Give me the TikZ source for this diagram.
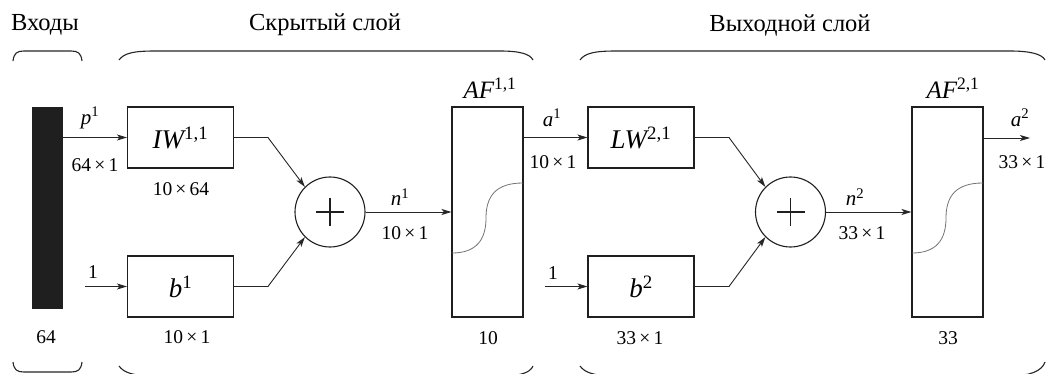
\documentclass[tikz,border=0pt]{standalone}
\usepackage{fontspec}
\setmainfont{Liberation Serif}
\usetikzlibrary{arrows.meta,calc}
\newcommand\sups[1]{\textsuperscript{\upshape #1}}
\begin{document}
\begin{tikzpicture}[x=1pt,y=-1pt,
  ink/.style={draw=black!88},
  blk/.style={ink,line width=1.1pt,inner sep=0pt,minimum width=106pt,minimum height=61pt,font=\fontsize{27}{30}\selectfont\itshape},
  afbox/.style={ink,line width=1.1pt,inner sep=0pt,minimum width=71pt,minimum height=210pt},
  sumc/.style={ink,circle,line width=1.1pt,inner sep=0pt,minimum size=70pt},
  conn/.style={draw=black!85,line width=0.9pt},
  arr/.style={conn,-{Stealth[length=10pt,width=6pt,inset=2.5pt]}},
  lab/.style={inner sep=0pt,font=\fontsize{19.5}{22}\selectfont},
  ilab/.style={inner sep=0pt,font=\fontsize{21}{24}\selectfont\itshape},
  title/.style={inner sep=0pt,font=\fontsize{24.5}{28}\selectfont},
  brace/.style={draw=black!85,line width=1.1pt},
  sig/.style={draw=black!55,line width=0.8pt}]
\useasboundingbox (0,0) rectangle (1049,374);
\clip (0,0) rectangle (1049,374);
\fill[white] (0,0) rectangle (1049,374);

% titles
\node[title] (t1) at (45,25) {Входы};
\node[title] (t2) at (325,25) {Скрытый слой};
\node[title] (t3) at (790,25) {Выходной слой};

% braces top
\draw[brace] (13,61) .. controls (14,53) and (17,51) .. (24,51) -- (71,51) .. controls (78,51) and (81,53) .. (82,61);
\draw[brace] (119,60) .. controls (124,53) and (134,51) .. (155,51) -- (500,51) .. controls (520,51) and (530,54) .. (533,60);
\draw[brace] (580,60) .. controls (585,53) and (595,51) .. (616,51) -- (1010,51) .. controls (1030,51) and (1042,54) .. (1045,60);
% braces bottom
\draw[brace] (13,362) .. controls (14,370) and (17,372) .. (24,372) -- (71,372) .. controls (78,372) and (81,370) .. (82,362);
\draw[brace] (119,366) .. controls (124,373) and (134,376) .. (155,376) -- (500,376) .. controls (520,376) and (530,373) .. (533,366);
\draw[brace] (580,366) .. controls (585,373) and (595,376) .. (616,376) -- (1010,376) .. controls (1030,376) and (1042,371) .. (1045,362);

% input bar
\node[fill=black!88,draw=none,inner sep=0pt,minimum width=31pt,minimum height=202pt] (bar) at (47.5,208) {};

% hidden layer
\node[blk] (IW) at (180.5,137.5) {IW\sups{1,1}};
\node[blk] (b1) at (180.5,286.5) {b\sups{1}};
\node[sumc] (s1) at (330,212) {};
\draw[line width=1.1pt,black!88] ($(s1)+(-14,0)$) -- ($(s1)+(14,0)$) ($(s1)+(0,-14)$) -- ($(s1)+(0,14)$);
\node[afbox] (af1) at (487.5,212) {};
\draw[sig] (452,253) .. controls (476,253) and (486,240) .. (486,218) .. controls (486,196) and (496,183) .. (523,183);

% output layer
\node[blk] (LW) at (641,137.5) {LW\sups{2,1}};
\node[blk] (b2) at (641,286.5) {b\sups{2}};
\node[sumc] (s2) at (790.5,212) {};
\draw[line width=1.1pt,black!88] ($(s2)+(-14,0)$) -- ($(s2)+(14,0)$) ($(s2)+(0,-14)$) -- ($(s2)+(0,14)$);
\node[afbox] (af2) at (947.5,212) {};
\draw[sig] (912,253) .. controls (936,253) and (946,240) .. (946,218) .. controls (946,196) and (956,183) .. (983,183);

% coordinates
\coordinate (in1) at (85,286.5);
\coordinate (in2) at (545,286.5);
\coordinate (k1) at (268,137.5);
\coordinate (k2) at (268,286.5);
\coordinate (k3) at (729,137.5);
\coordinate (k4) at (729,286.5);
\coordinate (out) at (1030,138);

% connectors
\draw[arr] (bar.east |- IW.west) -- (IW.west);
\draw[arr] (in1) -- (b1.west);
\draw[arr] (IW.east) -- (k1) -- (s1.135);
\draw[arr] (b1.east) -- (k2) -- (s1.225);
\draw[arr] (s1.east) -- (af1.west);
\draw[arr] (af1.east |- LW.west) -- (LW.west);
\draw[arr] (in2) -- (b2.west);
\draw[arr] (LW.east) -- (k3) -- (s2.135);
\draw[arr] (b2.east) -- (k4) -- (s2.225);
\draw[arr] (s2.east) -- (af2.west);
\draw[arr] (af2.east |- out) -- (out);

% labels
\node[ilab] (lp) at (90,118) {p\sups{1}};
\node[lab] (l641) at (95,165) {64\,×\,1};
\node[lab] (lone1) at (93,272) {1};
\node[lab] (l64) at (46,337) {64};
\node[lab] (l1064) at (181,189) {10\,×\,64};
\node[lab] (l101a) at (187,337) {10\,×\,1};
\node[ilab] (ln1) at (400,197) {n\sups{1}};
\node[lab] (l101b) at (405,233) {10\,×\,1};
\node[ilab,font=\fontsize{25}{28}\selectfont\itshape] (laf1) at (490,88) {AF\sups{1,1}};
\node[lab] (l10) at (488,338) {10};
\node[ilab] (la1) at (552,118) {a\sups{1}};
\node[lab] (l101c) at (553,162) {10\,×\,1};
\node[lab] (lone2) at (553,273) {1};
\node[lab] (l331a) at (640,338) {33\,×\,1};
\node[ilab] (ln2) at (855,197) {n\sups{2}};
\node[lab] (l331b) at (862,233) {33\,×\,1};
\node[ilab,font=\fontsize{25}{28}\selectfont\itshape] (laf2) at (953,88) {AF\sups{2,1}};
\node[lab] (l33) at (948,338) {33};
\node[ilab] (la2) at (1020,118) {a\sups{2}};
\node[lab] (l331c) at (1022,162) {33\,×\,1};
\end{tikzpicture}
\end{document}
